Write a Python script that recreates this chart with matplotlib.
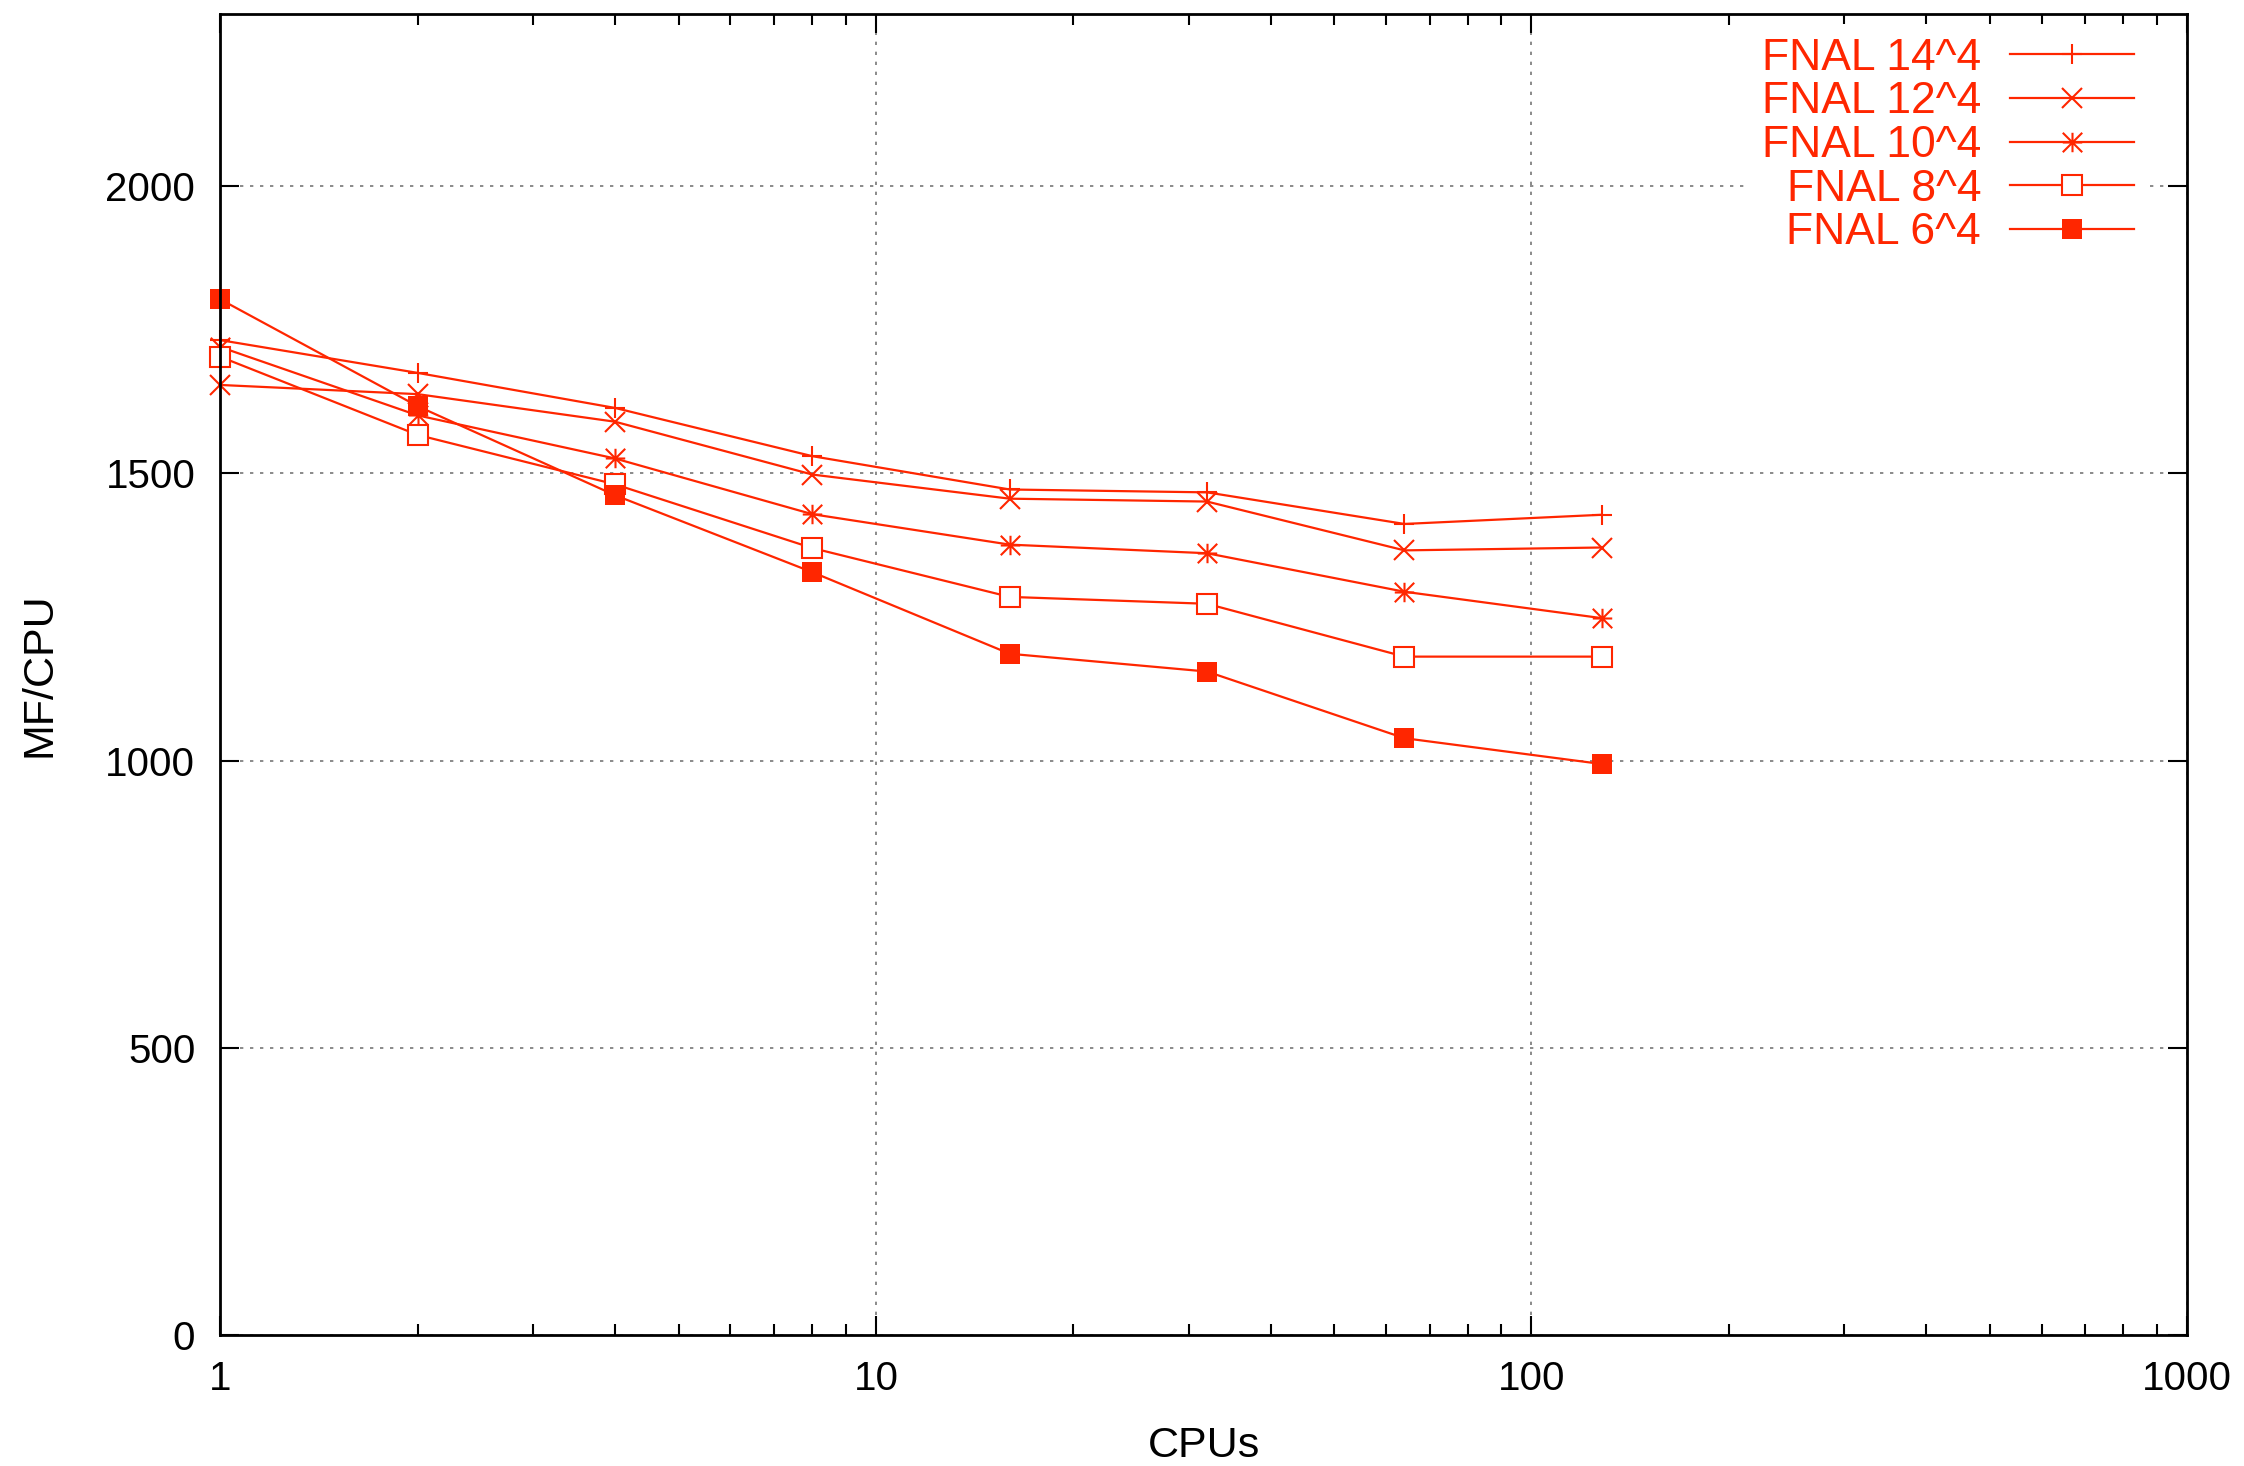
import numpy as np
import matplotlib; matplotlib.use("Agg"); import matplotlib.pyplot as plt
from matplotlib.path import Path

# MF/CPU vs number of CPUs, FNAL cluster, several lattice sizes
cpus=[1,2,4,8,16,32,64,128]
mf_14=[1732,1675,1614,1530,1472,1467,1412,1428]
mf_12=[1654,1638,1590,1498,1456,1451,1366,1371]
mf_10=[1720,1601,1526,1429,1376,1361,1294,1248]
mf_8=[1703,1567,1481,1370,1285,1273,1181,1181]
mf_6=[1803,1617,1462,1328,1186,1155,1039,994]
labels=["FNAL 14^4","FNAL 12^4","FNAL 10^4","FNAL 8^4","FNAL 6^4"]

RED="#ff2600"
plt.rcParams["font.family"]=["Liberation Sans","DejaVu Sans"]
# gnuplot-style star: plus and cross overlaid
star=Path([(-1,0),(1,0),(0,-1),(0,1),(-1,-1),(1,1),(-1,1),(1,-1)],
          [Path.MOVETO,Path.LINETO]*4)
styles=[dict(marker="+",mew=1.5),dict(marker="x",mew=1.5),dict(marker=star,mew=1.5),
        dict(marker="s",mfc="white",mew=1.5),dict(marker="s",mfc=RED,mew=0)]

fig=plt.figure(figsize=(22.44,14.66),dpi=100)
ax=fig.add_axes([0.0982,0.0894,0.8764,0.9011])
for ys,lab,st in zip([mf_14,mf_12,mf_10,mf_8,mf_6],labels,styles):
    ax.plot(cpus,ys,color=RED,lw=1.6,ms=14,mec=RED,label=lab,clip_on=False,zorder=3,**st)

ax.set_xscale("log"); ax.set_xlim(1,1000); ax.set_ylim(0,2300)
ax.set_xticks([1,10,100,1000]); ax.set_xticklabels(["1","10","100","1000"])
ax.set_yticks([0,500,1000,1500,2000])
ax.tick_params(which="both",direction="in",top=True,right=True,labelsize=29,width=1.5)
ax.tick_params(which="major",length=14,pad=18)
ax.tick_params(which="minor",length=8)
for s in ax.spines.values(): s.set_linewidth(2); s.set_zorder(4)
ax.grid(True,which="major",color="#777777",ls=(0,(2,4)),lw=1.2)
ax.set_xlabel("CPUs",fontsize=31,labelpad=20)
ax.set_ylabel("MF/CPU",fontsize=31,labelpad=33)

leg=ax.legend(loc="upper right",bbox_to_anchor=(0.980,0.992),fontsize=32,markerfirst=False,
              handlelength=2.8,labelspacing=0.06,borderaxespad=0,fancybox=False,framealpha=1,
              edgecolor="none",facecolor="white",borderpad=0.3,handletextpad=0.65)
for t in leg.get_texts(): t.set_color(RED); t.set_ha("right")
leg._legend_box.align="right"
fig.savefig("out.png",dpi=100)
